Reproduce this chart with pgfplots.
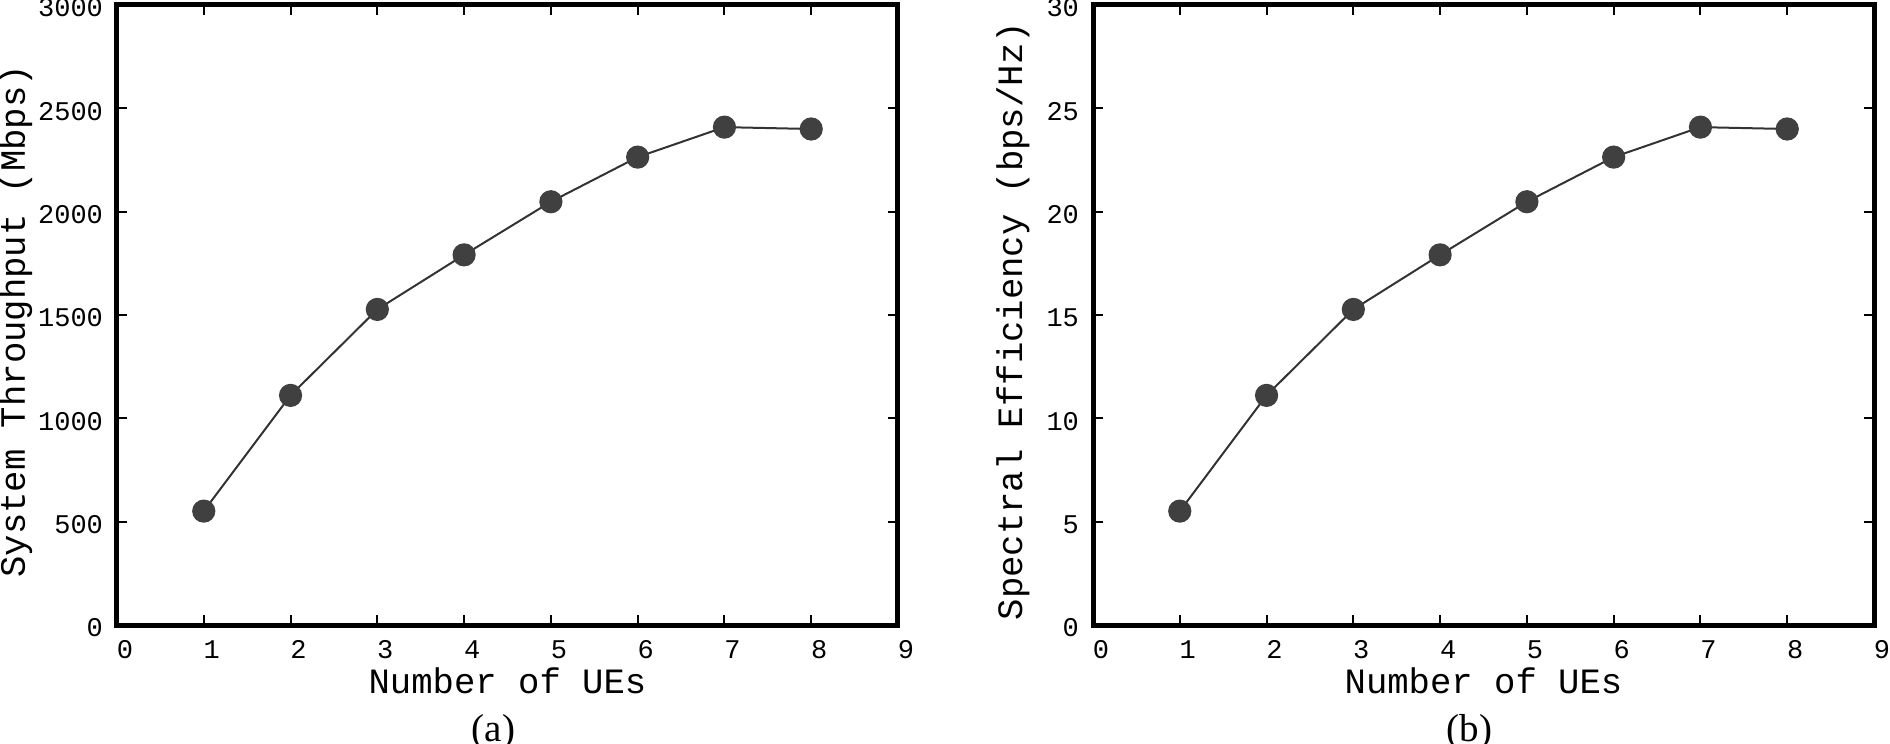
\documentclass[border=0pt]{standalone}
\usepackage{fontspec}
\setmainfont{Liberation Serif}
\setmonofont{Liberation Mono}
\usepackage{pgfplots}
\pgfplotsset{compat=1.18}

\definecolor{markgray}{HTML}{404040}
\definecolor{linegray}{HTML}{333333}

\pgfplotsset{
  ueplot/.style={
    scale only axis, width=390.5pt, height=310pt,
    anchor=south west, clip=false,
    xmin=0, xmax=9, ymin=0,
    xtick={0,...,9},
    axis line style={line width=2.5pt},
    tick align=inside, tick pos=both,
    major tick length=5pt,
    every tick/.style={black, line width=1pt},
    /pgf/number format/assume math mode=true,
    /pgf/number format/1000 sep={},
    tick label style={font=\fontsize{13.5}{14}\selectfont\ttfamily},
    xticklabel style={xshift=4pt, yshift=-4.3pt},
    yticklabel style={xshift=-3.5pt, yshift=-1.5pt},
    label style={font=\fontsize{17.8}{20}\selectfont\ttfamily},
    xlabel style={at={(axis description cs:0.5,-0.1097)}, anchor=base},
  },
  ueline/.style={linegray, line width=1pt, mark=*,
    mark size=5.3pt, mark options={fill=markgray, draw=markgray}},
}

\begin{document}
\begin{tikzpicture}
\path[use as bounding box] (-58.5pt,-59.5pt) rectangle (886.5pt,312.5pt);

\begin{axis}[ueplot, at={(0pt,0pt)},
  ymax=3000, ytick={0,500,...,3000},
  xlabel={Number of UEs},
  ylabel={System Throughput (Mbps)},
  ylabel style={at={(axis description cs:-0.1178,0.49)}, anchor=base, rotate=0},
]
\addplot[ueline] coordinates {(1,551) (2,1111) (3,1527) (4,1791) (5,2048) (6,2264) (7,2409) (8,2400)};
\node[font=\fontsize{19.5}{21}\selectfont, anchor=base] at (axis description cs:0.482,-0.1887) {(a)};
\end{axis}

\begin{axis}[ueplot, at={(488pt,0pt)},
  ymax=30, ytick={0,5,...,30},
  xlabel={Number of UEs},
  ylabel={Spectral Efficiency (bps/Hz)},
  ylabel style={at={(axis description cs:-0.0909,0.49)}, anchor=base, rotate=0},
]
\addplot[ueline] coordinates {(1,5.51) (2,11.11) (3,15.27) (4,17.91) (5,20.48) (6,22.64) (7,24.09) (8,24.0)};
\node[font=\fontsize{19.5}{21}\selectfont, anchor=base] at (axis description cs:0.482,-0.1887) {(b)};
\end{axis}
\end{tikzpicture}
\end{document}
